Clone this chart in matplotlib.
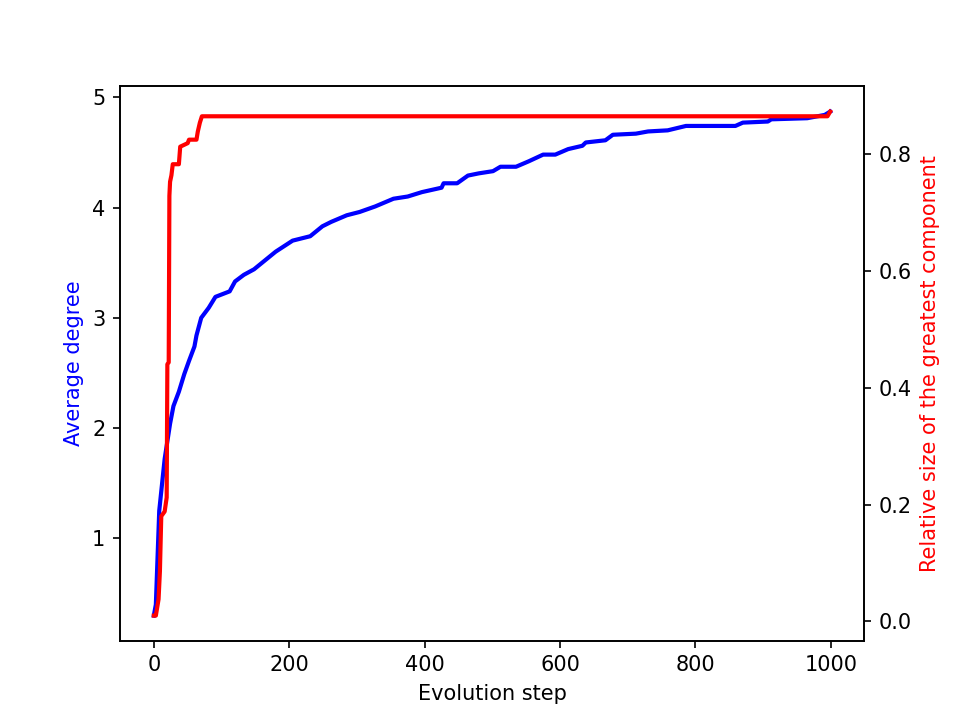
import numpy as np
import matplotlib
matplotlib.use("Agg")
import matplotlib.pyplot as plt

# Average degree (blue)
steps_deg = [0, 3, 8, 16, 24, 29, 37, 45, 52, 60, 63, 70, 81, 91, 112, 120, 133, 148,
             164, 180, 195, 205, 231, 249, 262, 285, 304, 327, 354, 375, 396, 425,
             428, 448, 464, 480, 501, 512, 535, 554, 575, 593, 612, 633, 638, 667,
             678, 712, 730, 759, 786, 859, 870, 907, 912, 965, 991, 999]
avg_degree = [0.30, 0.40, 1.25, 1.72, 2.04, 2.20, 2.33, 2.49, 2.61, 2.74, 2.84, 3.00,
              3.09, 3.19, 3.24, 3.33, 3.39, 3.44, 3.52, 3.60, 3.66, 3.70, 3.74, 3.83,
              3.87, 3.93, 3.96, 4.01, 4.08, 4.10, 4.14, 4.18, 4.22, 4.22, 4.29, 4.31,
              4.33, 4.37, 4.37, 4.42, 4.48, 4.48, 4.53, 4.56, 4.59, 4.61, 4.66, 4.67,
              4.69, 4.70, 4.74, 4.74, 4.77, 4.78, 4.80, 4.81, 4.84, 4.87]

# Relative size of the greatest component (red)
steps_gc = [0, 3, 7, 9, 11, 16, 19, 20, 22, 23, 24, 26, 28, 37, 39, 50, 52, 63, 65,
            68, 71, 995, 999]
giant = [0.010, 0.010, 0.038, 0.086, 0.18, 0.188, 0.212, 0.44, 0.443, 0.728, 0.752,
         0.763, 0.782, 0.782, 0.812, 0.818, 0.824, 0.824, 0.838, 0.853, 0.864, 0.864,
         0.872]

fig, ax1 = plt.subplots(figsize=(6.4, 4.8), dpi=150)
ax1.plot(steps_deg, avg_degree, color='blue', linewidth=2)
ax1.set_xlabel('Evolution step')
ax1.set_ylabel('Average degree', color='blue')

ax2 = ax1.twinx()
ax2.plot(steps_gc, giant, color='red', linewidth=2)
ax2.set_ylabel('Relative size of the greatest component', color='red')

plt.savefig('out.png', dpi=150)
